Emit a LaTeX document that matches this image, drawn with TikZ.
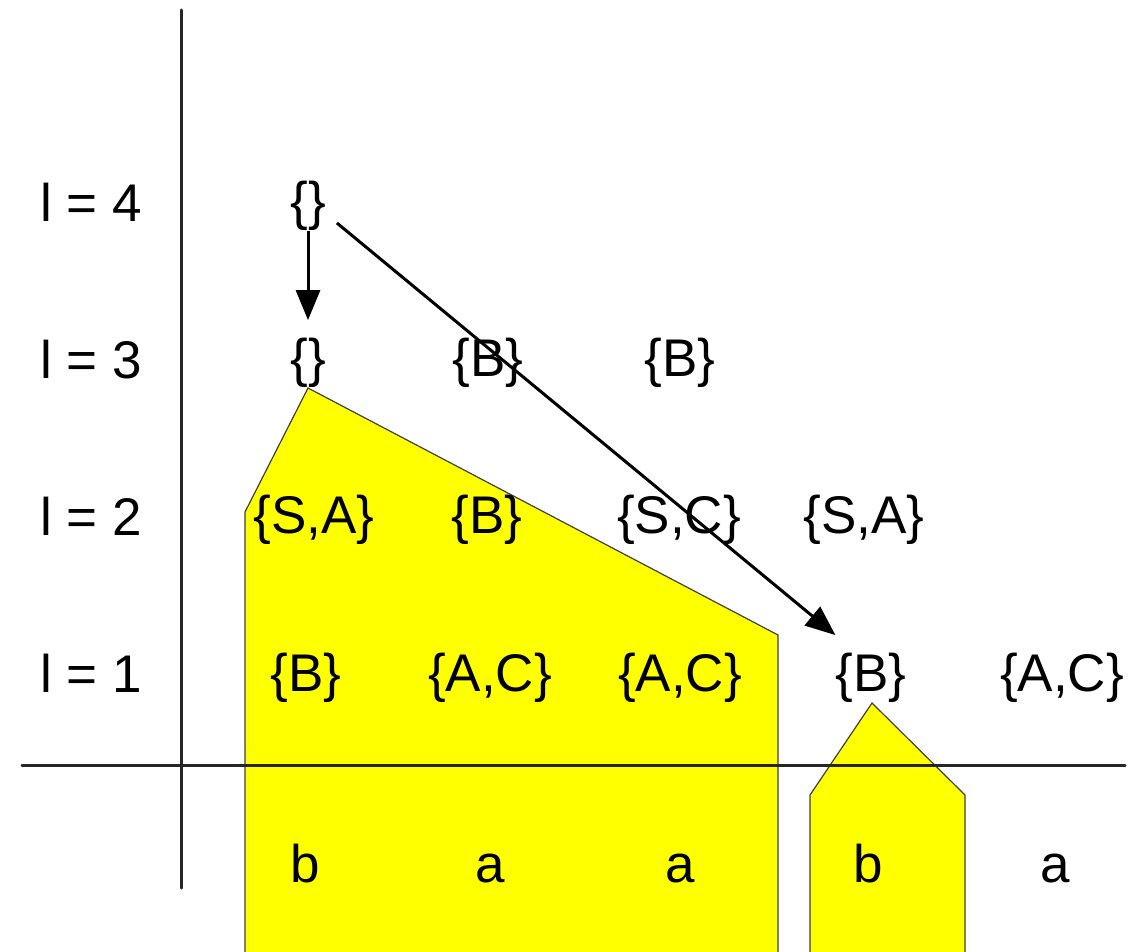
\documentclass[tikz,border=0pt]{standalone}
\usepackage{fontspec}
\setmainfont{Liberation Sans}
\usetikzlibrary{arrows.meta}
\definecolor{hiyellow}{RGB}{255,255,0}
\begin{document}
\begin{tikzpicture}[x=1pt,y=-1pt,
  txt/.style={inner sep=0pt,font=\fontsize{53}{60}\selectfont},
  lbl/.style={txt,anchor=base west},
  axis/.style={line width=3pt,draw=black!85,line cap=round},
  region/.style={fill=hiyellow,draw=black!75,line width=1.2pt,line join=miter},
  arr/.style={line width=3pt,-{Triangle[length=30pt,width=24pt]}}]
\useasboundingbox (0,0) rectangle (1140,952);
% yellow regions
\path[region] (245,952) -- (245,512) -- (308,388) -- (778,635) -- (778,952);
\path[region] (810,952) -- (810,795) -- (872,703) -- (965,795) -- (965,952);
% axes
\draw[axis] (181,10) coordinate (vtop) -- (181,888) coordinate (vbot);
\draw[axis] (22,765) coordinate (hl) -- (1125,765) coordinate (hr);
% level labels
\node[lbl] (l4) at (40,222) {l = 4};
\node[lbl] (l3) at (40,378) {l = 3};
\node[lbl] (l2) at (40,535) {l = 2};
\node[lbl] (l1) at (40,692) {l = 1};
% row 4
\node[txt] (n4) at (308,206) {\{\}};
% row 3
\node[txt] (n3a) at (308,363) {\{\}};
\node[txt] (n3b) at (488,363) {\{B\}};
\node[txt] (n3c) at (680,363) {\{B\}};
% row 2
\node[txt] (n2a) at (314,520) {\{S,A\}};
\node[txt] (n2b) at (487,520) {\{B\}};
\node[txt] (n2c) at (679,520) {\{S,C\}};
\node[txt] (n2d) at (864,520) {\{S,A\}};
% row 1
\node[txt] (n1a) at (306,678) {\{B\}};
\node[txt] (n1b) at (490,678) {\{A,C\}};
\node[txt] (n1c) at (680,678) {\{A,C\}};
\node[txt] (n1d) at (871,678) {\{B\}};
\node[txt] (n1e) at (1062,678) {\{A,C\}};
% terminals
\node[txt,anchor=base] (t1) at (305,882) {b};
\node[txt,anchor=base] (t2) at (490,882) {a};
\node[txt,anchor=base] (t3) at (680,882) {a};
\node[txt,anchor=base] (t4) at (868,882) {b};
\node[txt,anchor=base] (t5) at (1055,882) {a};
% arrows
\draw[arr] (n4.south) -- ([yshift=18pt]n3a.north);
\draw[arr] ([shift={(11pt,-17pt)}]n4.east) -- ([yshift=18pt]n1d.north west);
\end{tikzpicture}
\end{document}
